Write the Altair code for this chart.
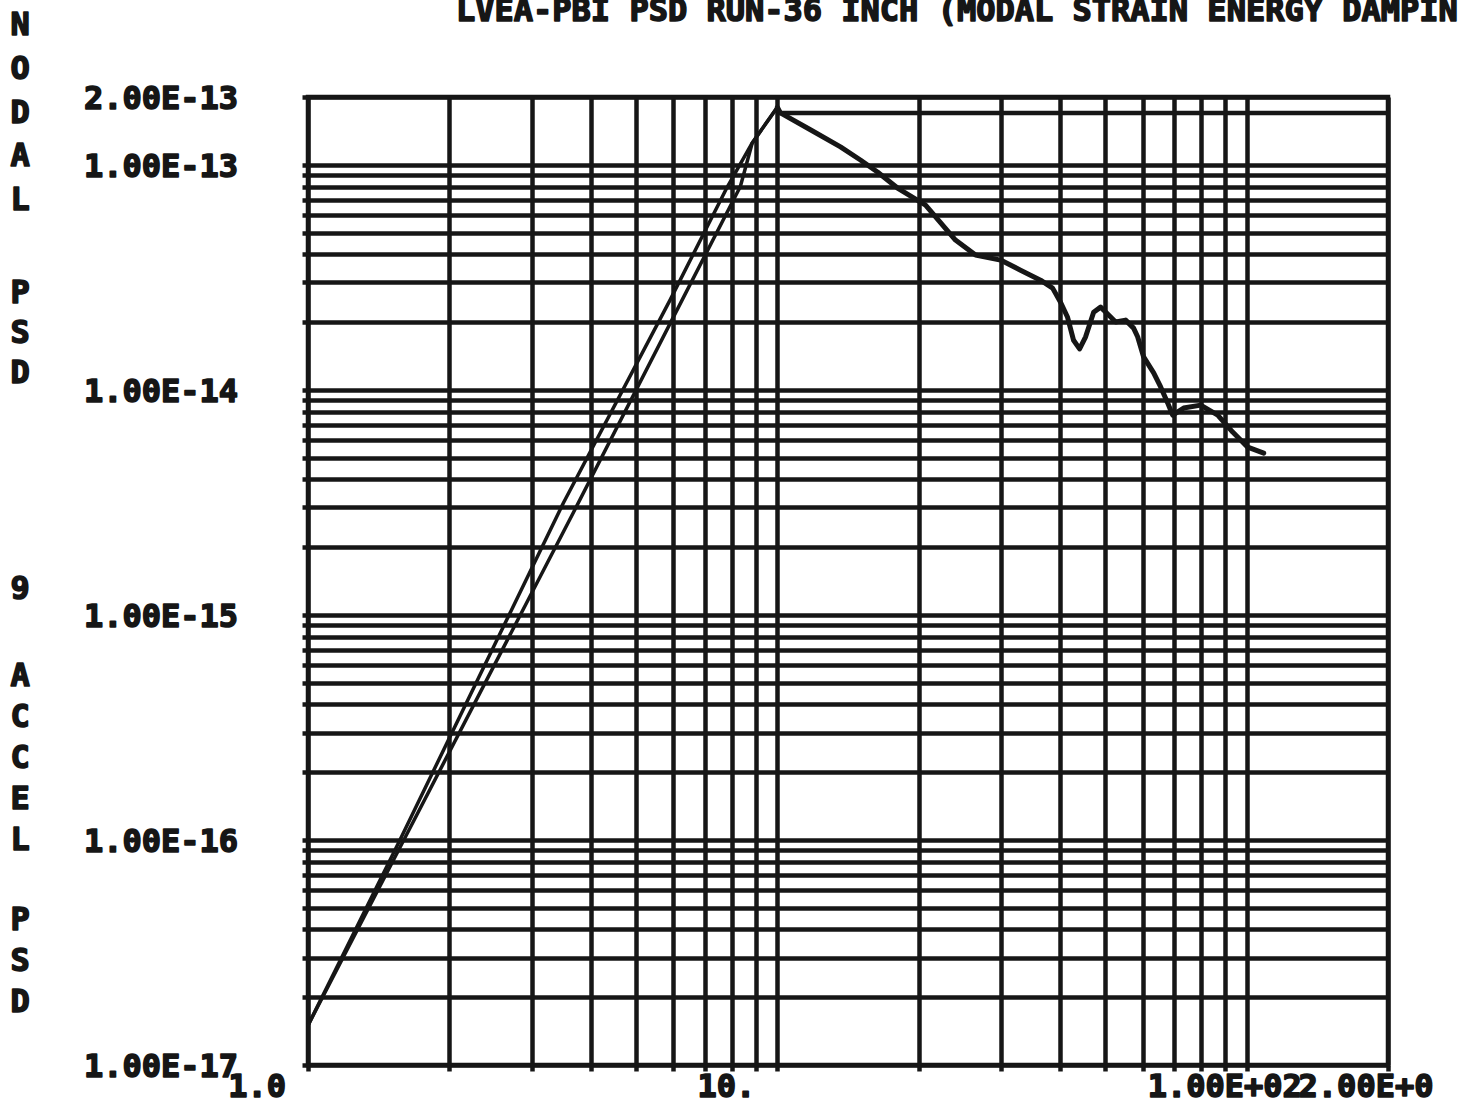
import altair as alt
import pandas as pd

# ---- text -----------------------------------------------------------------
TITLE = "LVEA-PBI PSD RUN-36 INCH (MODAL STRAIN ENERGY DAMPIN"
Y_TITLE_WORDS = ["NODAL", "PSD", "9", "ACCEL", "PSD"]

X_TICKS = [1, 10, 100, 200]
X_TICK_LABELS = ["1.0", "10.", "1.00E+02", "2.00E+0"]
Y_TICKS = [1e-17, 1e-16, 1e-15, 1e-14, 1e-13, 2e-13]
Y_TICK_LABELS = ["1.00E-17", "1.00E-16", "1.00E-15", "1.00E-14", "1.00E-13", "2.00E-13"]

# ---- curves (frequency, PSD) ----------------------------------------------
# rising branch, left trace
RISE_L_F = [1.0, 1.57, 3.50, 5.91, 7.82, 8.84, 10.0]
RISE_L_PSD = [1.5e-17, 1.0e-16, 3.14e-15, 2.51e-14, 7.96e-14, 1.25e-13, 1.8e-13]
# rising branch, right trace
RISE_R_F = [1.0, 1.60, 3.67, 6.27, 8.34, 8.84, 10.0]
RISE_R_PSD = [1.5e-17, 1.0e-16, 2.83e-15, 2.51e-14, 8.0e-14, 1.25e-13, 1.8e-13]
# falling branch after the peak
FALL_F = [10.0, 10.15, 11.76, 13.63, 15.03, 16.34, 18.03, 20.69, 23.96, 26.44,
          29.89, 32.97, 36.37, 38.59, 40.12, 41.53, 42.77, 44.05, 45.37, 47.19,
          48.84, 50.80, 52.57, 55.21, 57.41, 58.56, 60.31, 63.35, 65.56, 67.87,
          69.54, 73.39, 79.80, 86.75, 93.35, 100.5, 108.7]
FALL_PSD = [1.8e-13, 1.70e-13, 1.43e-13, 1.20e-13, 1.05e-13, 9.29e-14, 7.88e-14,
            6.62e-14, 4.63e-14, 3.97e-14, 3.77e-14, 3.40e-14, 3.07e-14, 2.83e-14,
            2.45e-14, 2.10e-14, 1.66e-14, 1.52e-14, 1.72e-14, 2.21e-14, 2.33e-14,
            2.15e-14, 2.00e-14, 2.04e-14, 1.88e-14, 1.72e-14, 1.40e-14, 1.19e-14,
            1.03e-14, 8.73e-15, 7.72e-15, 8.30e-15, 8.55e-15, 7.72e-15, 6.49e-15,
            5.56e-15, 5.23e-15]
# short extra grid rule near the top of the frame
EXTRA_RULE_F = [10, 200]
EXTRA_RULE_PSD = 1.7e-13

# ---- grid positions (decade subdivisions) -----------------------------------
X_GRID = [m * 10 ** e for e in (0, 1) for m in range(1, 10)] + [100, 200]
Y_GRID = [m * 10.0 ** e for e in range(-17, -13) for m in range(1, 10)] + [1e-13, 2e-13]

INK = "#161616"
FONT = "DejaVu Sans Mono"
FS = 32
GRID_W = 4.5
TEXT_STYLE = dict(font=FONT, fontSize=FS, fontWeight="bold", color=INK,
                  stroke=INK, strokeWidth=1.6, strokeJoin="round")

W, H = 1080, 968
PAD = {"left": 308, "top": 97, "right": 74, "bottom": 47}

x_scale = alt.Scale(type="log", domain=[1, 200], nice=False, zero=False)
y_scale = alt.Scale(type="log", domain=[1e-17, 2e-13], nice=False, zero=False)

grid_axis = dict(title=None, grid=True, gridColor=INK, gridWidth=GRID_W, gridOpacity=1,
                 domain=False, ticks=True, tickSize=6, tickWidth=GRID_W, tickColor=INK,
                 labels=False)
x_axis = alt.Axis(values=X_GRID, **grid_axis)
y_axis = alt.Axis(values=Y_GRID, **grid_axis)

rise_l = pd.DataFrame({"f": RISE_L_F, "psd": RISE_L_PSD})
rise_r = pd.DataFrame({"f": RISE_R_F, "psd": RISE_R_PSD})
fall = pd.DataFrame({"f": FALL_F, "psd": FALL_PSD})
extra = pd.DataFrame({"f0": [EXTRA_RULE_F[0]], "f1": [EXTRA_RULE_F[1]], "psd": [EXTRA_RULE_PSD]})
x_labels = pd.DataFrame({"f": X_TICKS, "lab": X_TICK_LABELS})
y_labels = pd.DataFrame({"psd": Y_TICKS, "lab": Y_TICK_LABELS})

grid_layer = alt.Chart(fall).mark_point(opacity=0).encode(
    x=alt.X("f:Q", scale=x_scale, axis=x_axis),
    y=alt.Y("psd:Q", scale=y_scale, axis=y_axis),
)

extra_rule = alt.Chart(extra).mark_rule(color=INK, strokeWidth=GRID_W).encode(
    x=alt.X("f0:Q", scale=x_scale), x2="f1:Q", y=alt.Y("psd:Q", scale=y_scale)
)


def curve(df, width):
    return alt.Chart(df).mark_line(color=INK, strokeWidth=width, strokeJoin="round",
                                   strokeCap="round").encode(
        x=alt.X("f:Q", scale=x_scale), y=alt.Y("psd:Q", scale=y_scale), order="f:Q"
    )


# tick labels: decade labels right of the frame are centred, the others end left of the tick
x_short = alt.Chart(x_labels).transform_filter("datum.f < 100").mark_text(
    align="right", baseline="middle", dx=-22, **TEXT_STYLE
).encode(x=alt.X("f:Q", scale=x_scale), y=alt.value(H + 22), text="lab:N")
x_long = alt.Chart(x_labels).transform_filter("datum.f >= 100").mark_text(
    align="center", baseline="middle", dx=-22, **TEXT_STYLE
).encode(x=alt.X("f:Q", scale=x_scale), y=alt.value(H + 22), text="lab:N")
y_lab = alt.Chart(y_labels).mark_text(
    align="right", baseline="middle", dy=2, **TEXT_STYLE
).encode(x=alt.value(-70), y=alt.Y("psd:Q", scale=y_scale), text="lab:N")

# chart title, partly cut by the top edge of the page
title_layer = alt.Chart(pd.DataFrame({"t": [TITLE]})).mark_text(
    align="left", baseline="alphabetic", **TEXT_STYLE
).encode(x=alt.value(148), y=alt.value(-76), text="t:N")

# vertical, letter-stacked y-axis title: one stacked block per word
word_first = [25, 293, 589, 676, 920]
word_pitch = [43.75, 40, 40, 41, 41]
ytitle_layers = []
for word, first, pitch in zip(Y_TITLE_WORDS, word_first, word_pitch):
    ytitle_layers.append(
        alt.Chart(pd.DataFrame({"k": [0]})).mark_text(
            align="center", baseline="middle", lineHeight=pitch, **TEXT_STYLE
        ).encode(x=alt.value(20 - PAD["left"]), y=alt.value(first - PAD["top"]),
                 text=alt.value(list(word)))
    )

chart = alt.layer(
    grid_layer,
    extra_rule,
    curve(rise_l, 3.5),
    curve(rise_r, 3.5),
    curve(fall, 5),
    x_short, x_long, y_lab,
    title_layer,
    *ytitle_layers,
).properties(
    width=W, height=H, padding=PAD,
    autosize=alt.AutoSizeParams(type="none"),
    background="white",
).configure_view(stroke=INK, strokeWidth=GRID_W)

chart.save("out.html", embed_options={"renderer": "svg", "actions": False})
